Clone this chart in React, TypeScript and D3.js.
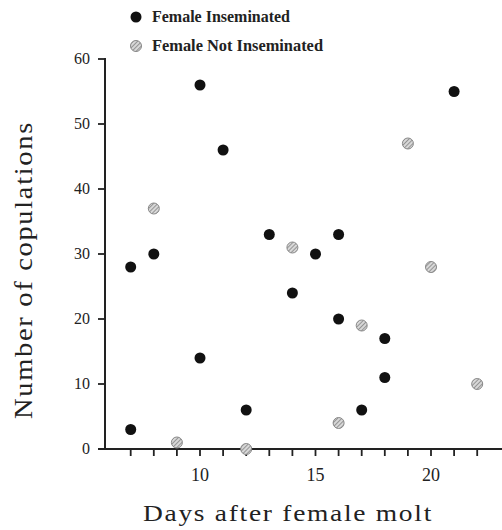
import React from 'react';
import * as d3 from 'd3';

const insemDays = [7, 7, 8, 10, 10, 11, 12, 13, 14, 15, 16, 16, 17, 18, 18, 21];
const insemCops = [28, 3, 30, 56, 14, 46, 6, 33, 24, 30, 33, 20, 6, 17, 11, 55];
const notDays = [8, 9, 12, 14, 16, 17, 19, 20, 22];
const notCops = [37, 1, 0, 31, 4, 19, 47, 28, 10];
const yTicks = [0, 10, 20, 30, 40, 50, 60];
const xTicks = d3.range(7, 23);
const xLabels = [10, 15, 20];

const W = 502;
const H = 530;
const font = '"Liberation Serif", "DejaVu Serif", serif';

const App = () => {
  const x = d3.scaleLinear().domain([10, 20]).range([200, 431]);
  const y = d3.scaleLinear().domain([0, 60]).range([449, 59]);
  const x0 = 105;

  const black = insemDays.map((d, i) => ({ d, c: insemCops[i] }));
  const gray = notDays.map((d, i) => ({ d, c: notCops[i] }));

  return (
    <svg width={W} height={H} style={{ position: 'absolute', left: 0, top: 0, background: '#fff' }}>
      <defs>
        <pattern id="hatch" width="3" height="3" patternUnits="userSpaceOnUse" patternTransform="rotate(45)">
          <rect width="3" height="3" fill="#d8d8d8" />
          <line x1="0" y1="0" x2="0" y2="3" stroke="#777" strokeWidth="1.4" />
        </pattern>
      </defs>

      {/* legend */}
      <circle cx={136} cy={17} r={5.5} fill="#111" />
      <text x={152} y={22} fontFamily={font} fontSize={16} fontWeight="bold" fill="#222"
        textLength={138} lengthAdjust="spacingAndGlyphs">
        Female Inseminated
      </text>
      <circle cx={136} cy={46} r={5.5} fill="url(#hatch)" stroke="#888" strokeWidth={1} />
      <text x={152} y={51} fontFamily={font} fontSize={16} fontWeight="bold" fill="#222"
        textLength={171} lengthAdjust="spacingAndGlyphs">
        Female Not Inseminated
      </text>

      {/* y axis */}
      <line x1={x0} x2={x0} y1={y(60) - 1} y2={y(0)} stroke="#222" strokeWidth={2} />
      {yTicks.map(t => (
        <g key={t}>
          <line x1={x0 - 7} x2={x0} y1={y(t)} y2={y(t)} stroke="#222" strokeWidth={1.8} />
          <text x={90} y={y(t) + 5} textAnchor="end" fontFamily={font} fontSize={16} fill="#222">{t}</text>
        </g>
      ))}

      {/* x axis */}
      <line x1={x0 - 7} x2={W} y1={y(0)} y2={y(0)} stroke="#222" strokeWidth={2} />
      {xTicks.map(t => (
        <line key={t} x1={x(t)} x2={x(t)} y1={y(0)} y2={y(0) + 7} stroke="#222" strokeWidth={1.8} />
      ))}
      {xLabels.map(t => (
        <text key={t} x={x(t)} y={481} textAnchor="middle" fontFamily={font} fontSize={18} fill="#222">{t}</text>
      ))}

      {/* points */}
      {gray.map((p, i) => (
        <circle key={'g' + i} cx={x(p.d)} cy={y(p.c)} r={5.5} fill="url(#hatch)" stroke="#888" strokeWidth={1} />
      ))}
      {black.map((p, i) => (
        <circle key={'b' + i} cx={x(p.d)} cy={y(p.c)} r={5.5} fill="#111" />
      ))}

      {/* axis titles */}
      <text x={288} y={521} textAnchor="middle" fontFamily={font} fontSize={24} fill="#222"
        letterSpacing={1.5} textLength={290} lengthAdjust="spacingAndGlyphs">
        Days after female molt
      </text>
      <text transform="translate(32,270) rotate(-90)" textAnchor="middle" fontFamily={font} fontSize={25} fill="#222"
        letterSpacing={1.5} textLength={298} lengthAdjust="spacingAndGlyphs">
        Number of copulations
      </text>
    </svg>
  );
};

export default App;
